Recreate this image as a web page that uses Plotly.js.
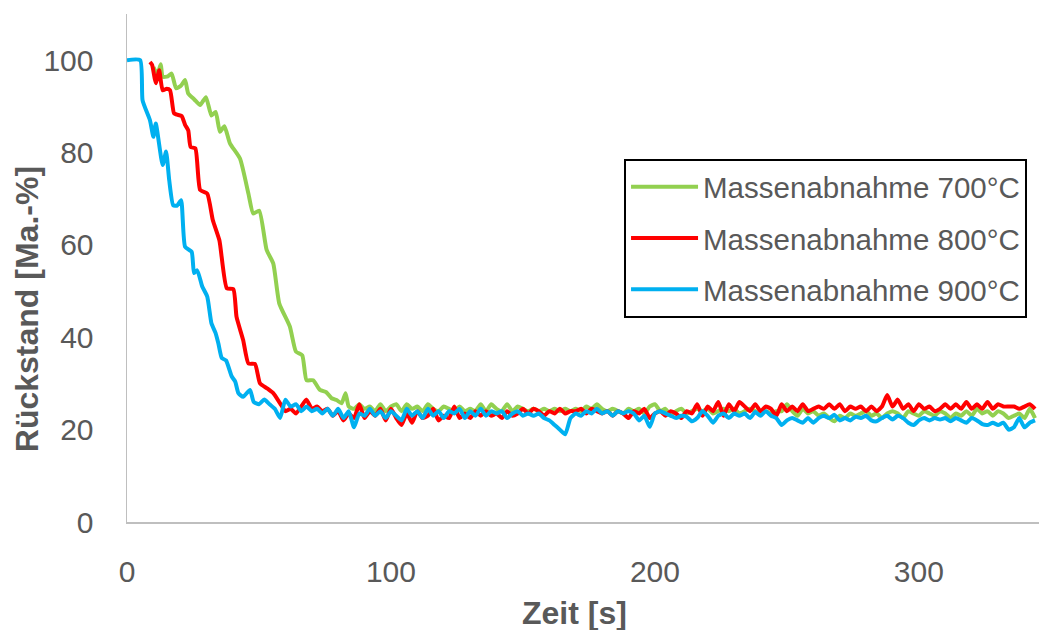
<!DOCTYPE html>
<html>
<head>
<meta charset="utf-8">
<script src="https://cdn.plot.ly/plotly-3.0.1.min.js"></script>
<style>html,body{margin:0;padding:0;background:#fff;}#chart{width:1039px;height:630px;}</style>
</head>
<body>
<div id="chart"></div>
<script>
// ---- data ----
const seriesNames = ["Massenabnahme 700°C", "Massenabnahme 800°C", "Massenabnahme 900°C"];
const xTickValues = [0, 100, 200, 300];
const yTickValues = [0, 20, 40, 60, 80, 100];

// common sampling times of the plateau region (s)
const sampleTimes = [48,50,52,54,56,58,60,62,64,66,68,70,72,74,76,78,80,82,84,86,88,90,92,94,96,98,100,
  102,104,106,108,110,112,114,116,118,120,122,124,126,128,130,132,134,136,138,140,142,144,146,148,150,
  152,154,156,158,160,162,164,166,168,170,172,174,176,178,180,182,184,186,188,190,192,194,196,198,200,
  202,204,206,208,210,212,214,216,218,220,222,224,226,228,230,232,234,236,238,240,242,244,246,248,250,
  252,254,256,258,260,262,264,266,268,270,272,274,276,278,280,282,284,286,288,290,292,294,296,298,300,
  302,304,306,308,310,312,314,316,318,320,322,324,326,328,330,332,334,336,338,340,342,344];

// 700 °C
const time700Drop = [10,11.5,12.8,13.5,15.5,16.9,18.6,20.5,22,23.2,25.5,27.7,29.9,32,33.6,35.2,36.9,39,42.8,46,47.8,50.1,52.9,55.4,57.7,61.7,64,66.4,68,70.5,73.1,75.5,77.5,79.4,81.3,82.8,84];
const mass700Drop = [98.5,97,99.1,96.4,96.5,97.1,93.9,94.5,95.7,92.8,91.5,90.3,92,88,88.8,84.5,85.7,82,78.7,71.1,66.8,67.4,58.9,56,47.3,42.3,36.9,36.1,30.7,30.7,28.6,28.1,26.8,26.4,25.7,27.9,25];
const mass700Plateau = [24.5,25.5,24.5,25,24,25.5,24,25,
  25.5,24,25.5,24.5,25,24,25.5,24.5,24,25,24.5,24,25,24,24.5,24,25.5,24,25.5,24.5,24,25.5,24,25,24.5,24,24.5,24,24.5,24,24.5,24,24.5,24,24.5,24,25,24.5,25.5,24.5,24,24.5,24,23.5,24.5,24,24.5,23.5,25,25.5,
  24,24.5,23,24,24.5,23.5,24,24.5,24,24.5,23.5,24,24.5,24,24.5,23.5,24,24.5,24,23.5,24,23.5,24,24,25.5,24,23,24.5,23.5,24,23,23.5,22.5,21.8,23,22.5,23.5,23,23.5,24,23,23.5,22.5,23.5,24,23.5,22.5,24,23.5,23,
  24,23.5,23,24,23.5,22.5,23.5,23,24,23,24.5,23.5,24,23,24,23.5,22.5,23,23.5,22.5,24.5,22.5];

// 800 °C
const time800Drop = [8.7,9.5,10.5,11,12.2,13.5,15,16.3,17.8,19,20.7,22,23.2,24.1,25.9,27.7,30.4,32.5,35,37.8,40.3,41.5,44,46,48.5,50.4,52.9,55.4,58];
const mass800Drop = [99.6,99,96,95,97.8,93.5,93.8,93.5,88.5,88.2,87.9,86,84.8,81.2,80.9,71.9,71.1,65.4,61,50.6,50.4,44.4,39.4,34.3,34.2,30,29,27.9,25.7];
const mass800Plateau = [24,24.5,23.5,25,26.5,24.5,25,24,24.5,23,24,22,23.5,22.5,25.5,22.5,24,23,24.5,22,24.5,
  22.5,21,23.5,21.5,24,22.5,23,24.5,22,23,22.5,25,22.5,23.5,22.5,24,23,24,23,23.5,22.5,24,23,23.5,24.5,23.5,24.5,24,23,24,23.5,24.5,23.5,24,24,24.5,23.5,24.5,24,23.5,24,23,24,23.5,22.5,24,23.5,24.5,22.5,23.5,
  24,23,24,23.5,22.5,24,23.5,25.5,23,25,24,26,23,25.5,24,26,25,24,25.5,24,25,24.5,23,25.5,24,25,24,25.5,24,24.5,25,24.5,25.5,24.5,25.5,24,25,24.5,25,24,25,24,25,27.5,25,26.5,24.5,25.5,24,25.5,
  24.5,25,24,24.5,25.5,24.5,25.5,24.5,26,24.5,25.5,24.5,26,24.5,25.5,25,25,25,24.5,25,25.5,24.5];

// 900 °C
const time900Drop = [0,5,5.9,8.7,10,10.9,13.5,14.8,16,17.5,19,20.5,22,24.5,25.4,26.6,28.5,30.4,32,33.5,34.6,35.9,37.5,39.7,41,42.2,44,46.6];
const mass900Drop = [100,100,91.3,87,83.4,86.3,77.3,80.2,74,68.6,68.5,69.7,59.6,58.5,53.9,54.5,51,48.8,43,41,38.7,35.5,35,31.5,30.4,27.9,27.1,28.6];
const mass900Plateau = [26,25.5,26.5,25.5,24.5,22.5,26.5,25,25.5,24,25,24,24.5,23.5,24.5,23,24.5,22.5,24,20.5,23.5,23,24.5,23,24,22.5,24,
  23,22,24.5,23,24,22.5,24.5,23,24,22.5,24,23.5,24.5,22.5,24,23,24.5,23,24,23.5,24,22.5,23.5,24,23,23.5,23,23.5,22.5,22,21,20,19,22.5,23.5,23,24,23.5,24.5,23.5,24,23,24,23.5,24,23.5,22,23,20.6,23.5,
  24,23.5,23,22.5,23,22.8,21.8,22.5,24,23,21.5,23,23.5,22.5,23.5,23,23.5,22.5,23.8,23,24,23,22.5,21,22,22.5,22,21.5,22.5,21.5,22.5,23,22.5,23.2,22,22.5,22,22.8,22.5,23,22,21.8,22.5,23,22.2,23,22.5,21.5,21,22,
  22.5,22,22.5,22.2,22.5,21.8,22.5,22,21.5,22.5,22,21.2,21,21.5,21,21.5,20,20.5,22.5,20.5,21.5,22];

// ---- build traces ----
const seriesColors = ["#92d050", "#ff0000", "#00b0f0"];
const xs = [
  time700Drop.concat(sampleTimes.slice(19)),
  time800Drop.concat(sampleTimes.slice(6)),
  time900Drop.concat(sampleTimes)
];
const ys = [
  mass700Drop.concat(mass700Plateau),
  mass800Drop.concat(mass800Plateau),
  mass900Drop.concat(mass900Plateau)
];

const traces = seriesNames.map((name, i) => ({
  type: "scatter",
  mode: "lines",
  name: name,
  x: xs[i],
  y: ys[i],
  legendgroup: "g" + i,
  line: {color: seriesColors[i], width: 4, shape: "spline", smoothing: 0.5},
  hoverinfo: "x+y+name"
}));

const textColor = "#595959";
const layout = {
  width: 1039,
  height: 630,
  margin: {l: 127, r: 0, t: 14, b: 108, pad: 0},
  paper_bgcolor: "#ffffff",
  plot_bgcolor: "#ffffff",
  font: {family: "Liberation Sans, Arial, sans-serif", color: textColor},
  showlegend: true,
  legend: {
    x: 0.545, y: 0.7146, xanchor: "left", yanchor: "top",
    bordercolor: "#000000", borderwidth: 2, bgcolor: "#ffffff",
    font: {size: 29.5, color: textColor, family: "Liberation Sans, Arial, sans-serif"},
    traceorder: "grouped", tracegroupgap: 10, itemwidth: 67
  },
  xaxis: {
    range: [0, 345.5],
    tickvals: xTickValues,
    ticktext: xTickValues.map(String),
    showgrid: false, zeroline: false,
    showline: true, linecolor: "#bfbfbf", linewidth: 1.5,
    ticks: "", ticklabelstandoff: 22,
    tickfont: {size: 30, color: textColor},
    fixedrange: true
  },
  yaxis: {
    range: [0, 110],
    tickvals: yTickValues,
    ticktext: yTickValues.map(String),
    showgrid: false, zeroline: false,
    showline: true, linecolor: "#bfbfbf", linewidth: 1.5,
    ticks: "", ticklabelstandoff: 26,
    tickfont: {size: 30, color: textColor},
    fixedrange: true
  },
  annotations: [
    {text: "<b>Zeit [s]</b>", xref: "paper", yref: "paper", x: 0.491, y: -0.179,
     xanchor: "center", yanchor: "middle", showarrow: false,
     font: {size: 32, color: textColor}},
    {text: "<b>Rückstand [Ma.-%]</b>", xref: "paper", yref: "paper", x: -0.1096, y: 0.419,
     xanchor: "center", yanchor: "middle", showarrow: false, textangle: -90,
     font: {size: 32, color: textColor}}
  ]
};

Plotly.newPlot("chart", traces, layout, {displayModeBar: false, staticPlot: true});
</script>
</body>
</html>
